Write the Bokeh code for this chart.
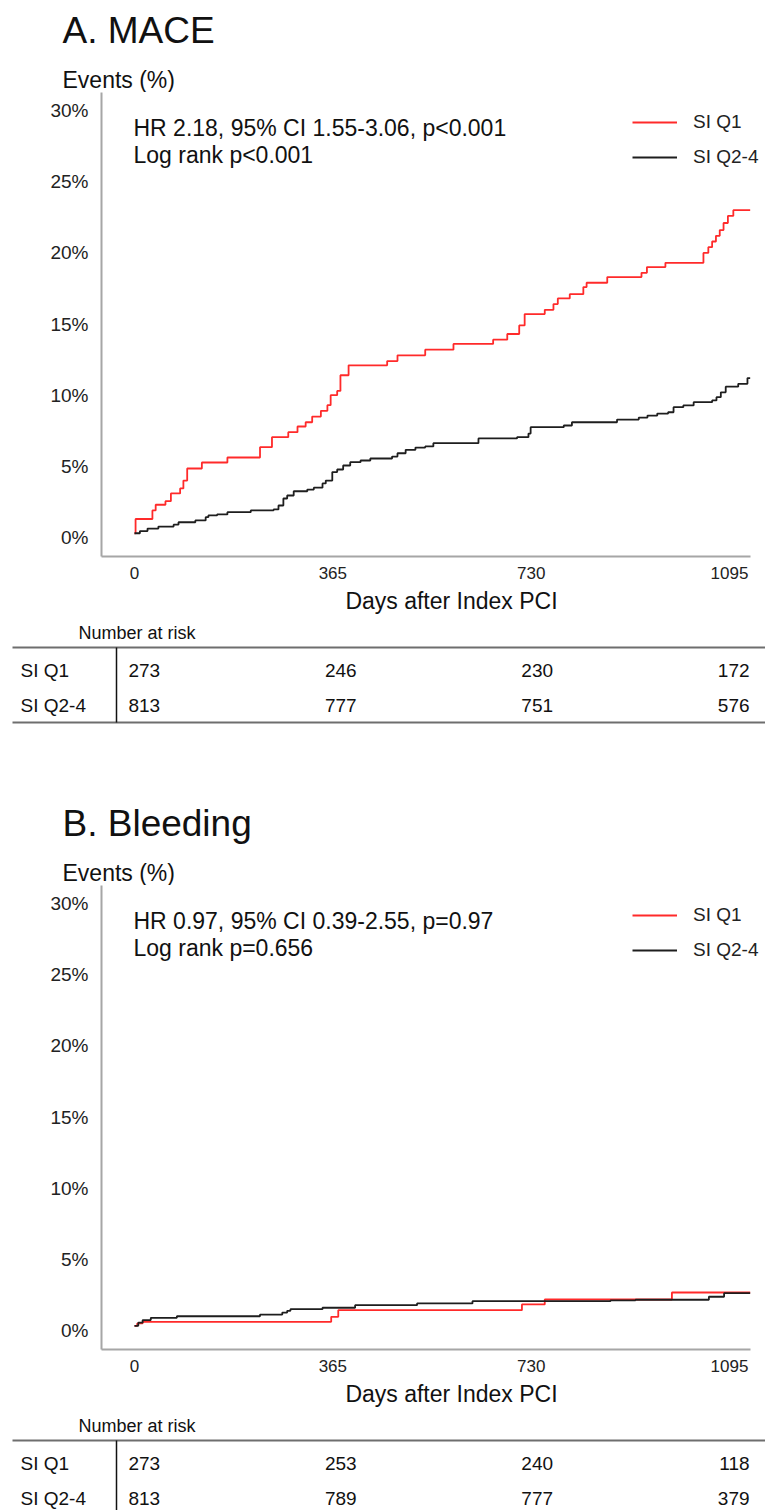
from bokeh.plotting import figure
from bokeh.models import Range1d, FixedTicker, Legend, LegendItem
from bokeh.layouts import column
from bokeh.embed import file_html
from bokeh.resources import INLINE
from bokeh.core.properties import value

# ---------------- data ----------------
x_ticks = [0, 365, 730, 1095]
y_ticks = [0, 5, 10, 15, 20, 25, 30]
y_tick_labels = ["0%", "5%", "10%", "15%", "20%", "25%", "30%"]
series_names = ["SI Q1", "SI Q2-4"]

mace_q1_days = [0, 2, 33, 39, 57, 67, 84, 90, 97, 124, 171, 231, 253, 283, 300, 315, 327, 343, 355,
                361, 373, 379, 394, 465, 484, 535, 587, 660, 686, 708, 718, 755, 771, 779, 801, 826,
                832, 870, 933, 943, 977, 1047, 1056, 1063, 1070, 1077, 1084, 1092, 1102, 1133]
mace_q1_pct = [0.3, 1.3, 1.9, 2.3, 2.55, 3.1, 3.45, 4.0, 4.85, 5.27, 5.62, 6.35, 7.05, 7.4, 7.8, 8.1, 8.5,
               8.9, 9.3, 10.0, 10.3, 11.4, 12.1, 12.4, 12.8, 13.2, 13.6, 13.9, 14.3, 14.9, 15.7, 16.0,
               16.4, 16.8, 17.1, 17.6, 17.9, 18.3, 18.6, 19.0, 19.3, 20.0, 20.4, 20.8, 21.2, 21.6, 22.1,
               22.6, 23.0, 23.0]

mace_q24_days = [0, 10, 24, 44, 72, 81, 112, 131, 136, 152, 171, 214, 256, 265, 274, 281, 293, 318, 330,
                 346, 352, 364, 373, 384, 397, 416, 434, 474, 484, 499, 517, 535, 550, 633, 704, 725,
                 729, 790, 805, 888, 928, 944, 962, 982, 992, 1010, 1029, 1063, 1071, 1079, 1088, 1111,
                 1128, 1133]
mace_q24_pct = [0.3, 0.45, 0.63, 0.77, 0.9, 1.07, 1.2, 1.43, 1.55, 1.62, 1.78, 1.9, 1.97, 2.25, 2.74, 2.95,
                3.25, 3.37, 3.5, 3.8, 4.0, 4.6, 4.78, 5.06, 5.29, 5.41, 5.55, 5.69, 5.92, 6.16, 6.32, 6.4,
                6.63, 6.96, 7.05, 7.3, 7.75, 7.87, 8.1, 8.29, 8.43, 8.57, 8.71, 8.8, 9.16, 9.28, 9.51,
                9.63, 9.86, 10.2, 10.6, 10.8, 11.2, 11.2]

bleed_q1_days = [0, 5, 15, 362, 375, 713, 755, 989, 1133]
bleed_q1_pct = [0.33, 0.5, 0.61, 0.96, 1.43, 1.83, 2.18, 2.67, 2.67]

bleed_q24_days = [0, 7, 15, 30, 78, 231, 272, 281, 287, 346, 406, 520, 622, 876, 922, 1057, 1085, 1133]
bleed_q24_pct = [0.33, 0.55, 0.73, 0.89, 1.0, 1.12, 1.26, 1.38, 1.5, 1.6, 1.78, 1.9, 2.06, 2.12, 2.16,
                 2.37, 2.62, 2.62]

risk_days = [0, 365, 730, 1095]
mace_risk_q1 = [273, 246, 230, 172]
mace_risk_q24 = [813, 777, 751, 576]
bleed_risk_q1 = [273, 253, 240, 118]
bleed_risk_q24 = [813, 789, 777, 379]

mace_stats = ["HR 2.18, 95% CI 1.55-3.06, p<0.001", "Log rank p<0.001"]
bleed_stats = ["HR 0.97, 95% CI 0.39-2.55, p=0.97", "Log rank p=0.656"]

# ---------------- style / layout ----------------
FONT = "'Liberation Sans', Arial, sans-serif"
RED = "#ff2a2a"
BLACK = "#1e1e1e"
AXIS_GREY = "#a6a6a6"
TXT = "#111111"
W = 765
FRAME_L, AXIS_R = 101, 750           # page x of the plot frame's left edge / x-axis end
X0, X_AXIS_END = -60.7, 1133.6       # day values at those two page x positions
Y0, Y1 = -1.335, 31.27               # percent range of the frame
PX_PER_DAY = (AXIS_R - FRAME_L) / (X_AXIS_END - X0)


def dx(px):
    """page-x pixel -> day value in the plots' scale"""
    return X0 + (px - FRAME_L) / PX_PER_DAY


def base(height, x_range, y_range):
    p = figure(width=W, height=height, x_range=x_range, y_range=y_range,
               x_axis_location=None, y_axis_location=None, toolbar_location=None,
               output_backend="svg", min_border=0)
    p.frame_align = False
    p.outline_line_color = None
    p.grid.visible = False
    return p


def header(title):
    p = base(92, Range1d(0, W), Range1d(92, 0))
    p.text(x=[62], y=[30], text=[title], text_font=value(FONT), text_font_size="37px",
           text_baseline="middle", text_color=TXT)
    p.text(x=[62], y=[79], text=["Events (%)"], text_font=value(FONT), text_font_size="23px",
           text_baseline="middle", text_color=TXT)
    return p


def km(q1_days, q1_pct, q24_days, q24_pct, stats, height):
    # the frame runs to the page's right edge so the legend is not clipped;
    # the x-axis line itself stops at AXIS_R via axis bounds
    p = figure(width=W, height=height, x_range=Range1d(X0, dx(W)), y_range=Range1d(Y0, Y1),
               toolbar_location=None, output_backend="svg", min_border=0)
    p.frame_align = False
    p.min_border_left = FRAME_L
    p.min_border_right = 0
    p.min_border_top = 0
    p.min_border_bottom = height - 464
    p.outline_line_color = None
    p.grid.visible = False
    for ax in (p.xaxis, p.yaxis):
        ax.axis_line_color = AXIS_GREY
        ax.axis_line_width = 2
        ax.major_tick_line_color = None
        ax.minor_tick_line_color = None
        ax.major_tick_out = 0
        ax.major_tick_in = 0
        ax.major_label_text_font = FONT
        ax.major_label_text_color = "#222222"
    p.xaxis.ticker = FixedTicker(ticks=x_ticks)
    p.xaxis.bounds = (X0, X_AXIS_END)
    p.xaxis.major_label_text_font_size = "17px"
    p.xaxis.major_label_standoff = 10
    p.yaxis.ticker = FixedTicker(ticks=y_ticks)
    p.yaxis.major_label_overrides = {t: l for t, l in zip(y_ticks, y_tick_labels)}
    p.yaxis.major_label_text_font_size = "19px"
    p.yaxis.major_label_standoff = 13

    r1 = p.step(q1_days, q1_pct, mode="after", line_color=RED, line_width=1.8)
    r2 = p.step(q24_days, q24_pct, mode="after", line_color=BLACK, line_width=1.8)

    p.text(x=[0, 0], y=[28.8, 26.85], text=stats, text_font=value(FONT), text_font_size="23px",
           text_baseline="middle", text_color=TXT, x_offset=-1)

    legend = Legend(items=[LegendItem(label=series_names[0], renderers=[r1]),
                           LegendItem(label=series_names[1], renderers=[r2])],
                    location=(531, 388))
    legend.padding = 0
    legend.margin = 0
    legend.spacing = 13
    legend.glyph_width = 45
    legend.glyph_height = 20
    legend.label_height = 20
    legend.label_standoff = 16
    legend.label_text_font = FONT
    legend.label_text_font_size = "19px"
    legend.label_text_color = "#222222"
    legend.border_line_color = None
    legend.background_fill_alpha = 0
    p.add_layout(legend)
    return p


def ry(rel):
    """pixel offset inside a table figure -> row coordinate (rows 0 and 1)"""
    return (rel - 84) / 35.0


def table(risk_q1, risk_q24, height):
    p = base(height, Range1d(dx(0), dx(W)), Range1d(ry(height), ry(0)))
    p.text(x=[dx(451)], y=[ry(14)], text=["Days after Index PCI"], text_font=value(FONT),
           text_font_size="23px", text_align="center", text_baseline="middle", text_color=TXT)
    p.text(x=[dx(78)], y=[ry(46)], text=["Number at risk"], text_font=value(FONT),
           text_font_size="18px", text_baseline="middle", text_color=TXT)
    p.segment(x0=[dx(12), dx(12)], y0=[ry(61), ry(136)], x1=[dx(W), dx(W)], y1=[ry(61), ry(136)],
              line_color="#6e6e6e", line_width=2)
    p.segment(x0=[dx(116)], y0=[ry(61)], x1=[dx(116)], y1=[ry(136)], line_color=TXT,
              line_width=1.5)
    p.text(x=[dx(20), dx(20)], y=[0, 1], text=series_names, text_font=value(FONT),
           text_font_size="19px", text_baseline="middle", text_color=TXT)
    aligns = ["left", "center", "center", "right"]
    offs = [-6, 8, 6, 20]
    for i, d in enumerate(risk_days):
        p.text(x=[d, d], y=[0, 1], text=[str(risk_q1[i]), str(risk_q24[i])],
               text_font=value(FONT), text_font_size="19px", text_align=aligns[i],
               text_baseline="middle", x_offset=offs[i], text_color=TXT)
    return p


layout = column(
    header("A. MACE"),
    km(mace_q1_days, mace_q1_pct, mace_q24_days, mace_q24_pct, mace_stats, 494),
    table(mace_risk_q1, mace_risk_q24, 207),
    header("B. Bleeding"),
    km(bleed_q1_days, bleed_q1_pct, bleed_q24_days, bleed_q24_pct, bleed_stats, 494),
    table(bleed_risk_q1, bleed_risk_q24, 131),
)

open("out.html", "w").write(file_html(layout, INLINE))
